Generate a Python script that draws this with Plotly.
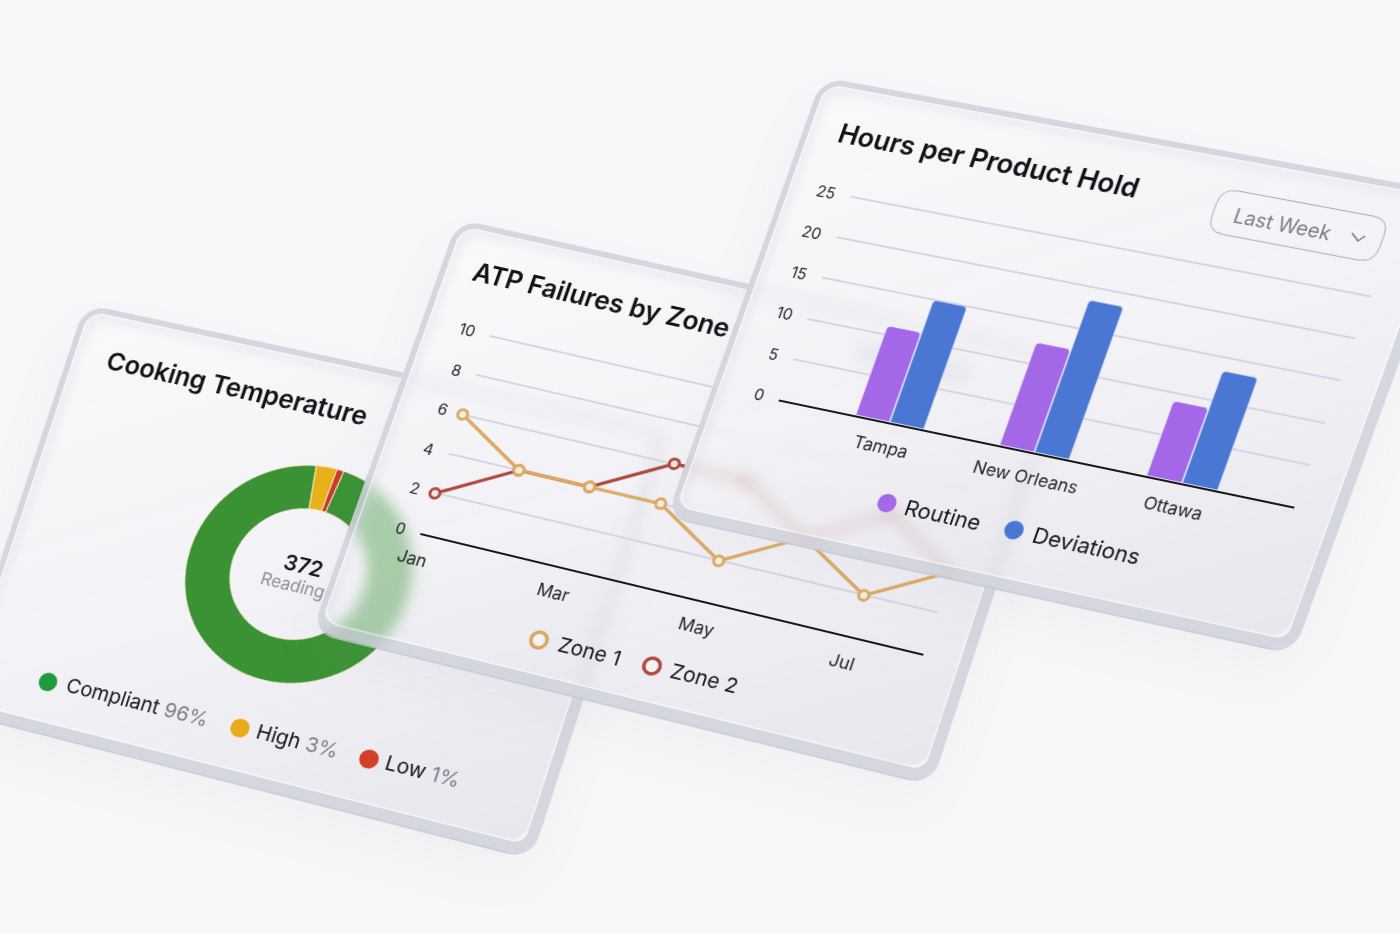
import json
import numpy as np
import plotly.graph_objects as go

# ---- data ----
bar_categories = ["Tampa", "New Orleans", "Ottawa"]
routine = [11, 12.5, 9]
deviations = [15, 18.5, 13.5]
bar_ticks = [0, 5, 10, 15, 20, 25]

months = ["Jan", "Feb", "Mar", "Apr", "May", "Jun", "Jul", "Aug"]
month_ticks = ["Jan", "Mar", "May", "Jul"]
zone1 = [6, 4, 4, 4, 2, 4, 2, 4]
zone2 = [2, 4, 4, 6, 6, 4, 6, 4]
line_ticks = [0, 2, 4, 6, 8, 10]

temp_labels = ["Compliant", "High", "Low"]
temp_values = [96, 3, 1]
temp_percent = ["96%", "3%", "1%"]
temp_total = "372"

W, H = 1400, 933
FONT = "Inter"
OX, OY = 300, 150   # flat position of every card before its perspective is applied


def homography(w, h, pts):
    src = [(0, 0), (w, 0), (w, h), (0, h)]
    A, b = [], []
    for (x, y), (u, v) in zip(src, pts):
        A.append([x, y, 1, 0, 0, 0, -u * x, -u * y]); b.append(u)
        A.append([0, 0, 0, x, y, 1, -v * x, -v * y]); b.append(v)
    s = np.linalg.solve(np.array(A, float), np.array(b, float))
    return np.array([[s[0], s[1], s[2]], [s[3], s[4], s[5]], [s[6], s[7], 1.0]])


CARDS = [
    dict(w=600, h=440, pts=[(85, 304), (671, 430), (532, 858), (-49, 710)]),
    dict(w=635, h=445, pts=[(458, 219), (1072, 356), (932, 784), (312, 631)]),
    dict(w=650, h=470, pts=[(822, 77), (1460, 194), (1294, 653), (667, 516)]),
]
for c in CARDS:
    c["H"] = homography(c["w"], c["h"], c["pts"])
    c["Hi"] = np.linalg.inv(c["H"])
    m = c["H"]
    c["css"] = "matrix3d(" + ",".join(f"{v:.10f}" for v in [
        m[0, 0], m[1, 0], 0, m[2, 0],
        m[0, 1], m[1, 1], 0, m[2, 1],
        0, 0, 1, 0,
        m[0, 2], m[1, 2], 0, m[2, 2]]) + ")"


def flat(k, sx, sy):
    """screen position on card k -> flat figure pixel"""
    p = CARDS[k]["Hi"] @ np.array([sx, sy, 1.0])
    return p[0] / p[2] + OX, p[1] / p[2] + OY


def px(x):
    return x / W


def py(y):
    return 1 - y / H


annotations, shapes = [], []
ann_card, shape_card = [], []


def text(k, sx, sy, s, size, color="#15161a", weight=400):
    x, y = flat(k, sx, sy)
    annotations.append(dict(x=px(x), y=py(y), xref="paper", yref="paper", text=s, showarrow=False,
                            xanchor="center", yanchor="middle",
                            font=dict(family=FONT, size=size, color=color, weight=weight)))
    ann_card.append(k)


def dot(k, sx, sy, r, fill, line=None, lw=0):
    x, y = flat(k, sx, sy)
    shapes.append(dict(type="circle", xref="paper", yref="paper", layer="above",
                       x0=px(x - r), x1=px(x + r), y0=py(y + r), y1=py(y - r),
                       fillcolor=fill, line=dict(color=line or fill, width=lw)))
    shape_card.append(k)


def round_rect(k, x0, y0, x1, y1, r, fill, line, lw):
    p = lambda a, b: f"{px(a):.5f},{py(b):.5f}"
    d = (f"M{p(x0 + r, y0)} L{p(x1 - r, y0)} Q{p(x1, y0)} {p(x1, y0 + r)} L{p(x1, y1 - r)} "
         f"Q{p(x1, y1)} {p(x1 - r, y1)} L{p(x0 + r, y1)} Q{p(x0, y1)} {p(x0, y1 - r)} "
         f"L{p(x0, y0 + r)} Q{p(x0, y0)} {p(x0 + r, y0)} Z")
    shapes.append(dict(type="path", path=d, xref="paper", yref="paper", layer="above",
                       fillcolor=fill, line=dict(color=line, width=lw)))
    shape_card.append(k)


GREY = "#7c7d88"
# card 1 texts
text(0, 236, 388, "Cooking Temperature", 26, "#121317", 600)
text(0, 303, 565, temp_total, 21.5, "#121317", 600)
text(0, 297, 586, "Readings", 17, "#8b8c96")
for (mx, my), (tx, ty), lab, pct, col in zip(
        [(48, 682), (240, 728), (369, 759)], [(137, 702), (297, 741), (423, 771)],
        temp_labels, temp_percent, ["#1f9a3d", "#e6ac1a", "#d43f2a"]):
    dot(0, mx, my, 9.5, col)
    text(0, tx, ty, f'{lab} <span style="color:{GREY}">{pct}</span>', 20.4)

# card 2 texts
text(1, 601, 300, "ATP Failures by Zone", 26.4, "#121317", 600)
text(1, 590, 651, "Zone 1", 20.6)
text(1, 705, 678, "Zone 2", 20.6)
dot(1, 539, 640, 8, "rgba(255,255,255,0.4)", "#d9a662", 3.5)
dot(1, 652, 666, 8, "rgba(255,255,255,0.4)", "#ad4a3c", 3.5)
a = flat(1, 862, 338); b = flat(1, 965, 388)
round_rect(1, a[0], a[1], b[0], b[1], 12, "rgba(150,150,165,0.25)", "rgba(150,150,165,0.45)", 1)

# card 3 texts
text(2, 987, 160, "Hours per Product Hold", 27.5, "#121317", 600)
text(2, 1283, 225, "Last Week", 19.6, "#7b7c87")
text(2, 943, 515, "Routine", 22)
text(2, 1086, 546, "Deviations", 22)
dot(2, 887, 503, 9.5, "#a467e8")
dot(2, 1014, 530, 9.5, "#4a76d4")
a = flat(2, 1222, 188); b = flat(2, 1374, 263)
round_rect(2, a[0], a[1], b[0], b[1], 16, "rgba(0,0,0,0)", "#a9aab5", 1)
c0 = flat(2, 1352, 233); c1 = flat(2, 1358, 241); c2 = flat(2, 1365, 236)
shapes.append(dict(type="path", xref="paper", yref="paper", layer="above",
                   path=f"M{px(c0[0]):.5f},{py(c0[1]):.5f} L{px(c1[0]):.5f},{py(c1[1]):.5f} L{px(c2[0]):.5f},{py(c2[1]):.5f}",
                   line=dict(color="#6f7079", width=1.4)))
shape_card.append(2)

# plot areas
l0 = flat(1, 421, 533); l1 = flat(1, 926, 647); lt = flat(1, 486, 335)
b0 = flat(2, 779, 399); b1 = flat(2, 1294, 509); bt = flat(2, 850, 197)
dc = flat(0, 298, 574)
R = 112
PAD = 1.012   # a little headroom so the top gridline is kept by the axis
l_top = l0[1] + (lt[1] - l0[1]) * PAD
b_top = b0[1] + (bt[1] - b0[1]) * PAD

fig = go.Figure()
fig.add_trace(go.Scatter(x=months, y=zone2, name="Zone 2", mode="lines+markers", cliponaxis=False,
                         line=dict(color="#ad4a3c", width=3.4),
                         marker=dict(size=10, color="#efe6e6", line=dict(color="#ad4a3c", width=3))))
fig.add_trace(go.Scatter(x=months, y=zone1, name="Zone 1", mode="lines+markers", cliponaxis=False,
                         line=dict(color="#dca964", width=3.4),
                         marker=dict(size=10, color="#f4eee2", line=dict(color="#dca964", width=3))))
fig.add_trace(go.Bar(x=bar_categories, y=routine, name="Routine", xaxis="x2", yaxis="y2", marker_color="#a467e8"))
fig.add_trace(go.Bar(x=bar_categories, y=deviations, name="Deviations", xaxis="x2", yaxis="y2", marker_color="#4a76d4"))
fig.add_trace(go.Pie(labels=temp_labels, values=temp_values, hole=0.6, sort=False, direction="clockwise",
                     rotation=6, textinfo="none", showlegend=False,
                     marker=dict(colors=["#3a9234", "#e8b01a", "#c93a2c"],
                                 line=dict(color="rgba(255,236,205,0.9)", width=1)),
                     domain=dict(x=[px(dc[0] - R), px(dc[0] + R)], y=[py(dc[1] + R), py(dc[1] - R)])))

xtick = dict(family=FONT, size=17.6, color="#24252b")
ytick = dict(family=FONT, size=16, color="#24252b")
grid = dict(showgrid=True, gridcolor="#d5d6e2", gridwidth=1.6, zeroline=False, automargin=False)
fig.update_layout(
    width=W, height=H, autosize=False, showlegend=False,
    margin=dict(l=0, r=0, t=0, b=0, pad=0), paper_bgcolor="#f7f7f9", plot_bgcolor="rgba(0,0,0,0)",
    barmode="group", bargap=0.52, bargroupgap=0.03, barcornerradius=4,
    annotations=annotations, shapes=shapes,
    xaxis=dict(domain=[px(l0[0]), px(l1[0])], type="category", categoryorder="array", categoryarray=months,
               range=[0, 7], tickmode="array", tickvals=month_ticks, ticktext=month_ticks, automargin=False,
               showgrid=False, zeroline=False, showline=True, linecolor="#16171b", linewidth=1.6,
               ticks="outside", ticklen=10, tickcolor="rgba(0,0,0,0)", tickfont=xtick, anchor="y"),
    yaxis=dict(domain=[py(l0[1]), py(l_top)], range=[0, 10 * PAD], tickvals=line_ticks, ticks="outside", ticklen=12,
               tickcolor="rgba(0,0,0,0)", tickfont=ytick, anchor="x", **grid),
    xaxis2=dict(domain=[px(b0[0]), px(b1[0])], type="category", range=[-0.78, 2.75], automargin=False,
                showgrid=False, zeroline=False, showline=True, linecolor="#16171b", linewidth=1.6,
                ticks="outside", ticklen=10, tickcolor="rgba(0,0,0,0)", tickfont=xtick, anchor="y2"),
    yaxis2=dict(domain=[py(b0[1]), py(b_top)], range=[0, 25 * PAD], tickvals=bar_ticks, ticks="outside", ticklen=12,
                tickcolor="rgba(0,0,0,0)", tickfont=ytick, anchor="x2", **grid),
)

cfg = dict(
    ox=OX, oy=OY,
    cards=[dict(w=c["w"], h=c["h"], css=c["css"]) for c in CARDS],
    annCard=ann_card, shapeCard=shape_card,
)
script = """
(function(){
var cfg = __CFG__;
var gd = document.getElementById('{plot_id}');
document.documentElement.style.background='#f7f7f9';
document.body.style.margin='0';
document.body.style.overflow='hidden';
document.body.style.background='#f7f7f9';
var root = gd.querySelector('.svg-container');
var NS='http://www.w3.org/2000/svg';
var svgs=[];
cfg.cards.forEach(function(c,i){
  var d=document.createElement('div');
  d.style.cssText='position:absolute;left:0;top:0;width:'+c.w+'px;height:'+c.h+'px;'+
    'transform-origin:0 0;transform:'+c.css+';border-radius:24px;'+
    'backdrop-filter:blur(7px);-webkit-backdrop-filter:blur(7px);'+
    'box-shadow:0 2px 0 rgba(196,198,212,0.8),0 24px 50px rgba(130,135,160,0.06);';
  var rim=document.createElement('div');
  rim.style.cssText='position:absolute;inset:0;box-sizing:border-box;border-radius:24px;'+
    'border-style:solid;border-width:6px 11px 11px 6px;border-color:rgba(207,209,220,0.85);'+
    'background:transparent;';
  d.appendChild(rim);
  var f=document.createElement('div');
  f.style.cssText='position:absolute;left:6px;top:6px;right:11px;bottom:11px;border-radius:18px;'+
    'background:linear-gradient(150deg,rgba(250,250,252,0.62) 0%,rgba(240,240,245,0.6) 50%,rgba(222,222,230,0.68) 100%);'+
    'box-shadow:inset 0 0 0 1.5px rgba(255,255,255,0.55),inset 7px 7px 10px rgba(214,215,225,0.35);';
  d.appendChild(f);
  var s=document.createElementNS(NS,'svg');
  s.setAttribute('width',1400); s.setAttribute('height',933);
  s.style.cssText='position:absolute;overflow:visible;left:'+(-cfg.ox)+'px;top:'+(-cfg.oy)+'px;';
  d.appendChild(s);
  root.appendChild(d);
  svgs.push(s);
});
var main=root.querySelector('svg.main-svg');
svgs[1].appendChild(main.querySelector('.cartesianlayer .subplot.xy'));
svgs[2].appendChild(main.querySelector('.cartesianlayer .subplot.x2y2'));
main.querySelectorAll('.pielayer .trace').forEach(function(t){svgs[0].appendChild(t);});
cfg.annCard.forEach(function(k,i){
  var a=root.querySelector('.infolayer .annotation[data-index="'+i+'"]');
  if(a) svgs[k].appendChild(a);
});
cfg.shapeCard.forEach(function(k,i){
  var a=root.querySelector('.layer-above .shapelayer path[data-index="'+i+'"]');
  if(a) svgs[k].appendChild(a);
});
})();
""".replace("__CFG__", json.dumps(cfg))

fig.write_html("out.html", post_script=script, config=dict(displayModeBar=False))
